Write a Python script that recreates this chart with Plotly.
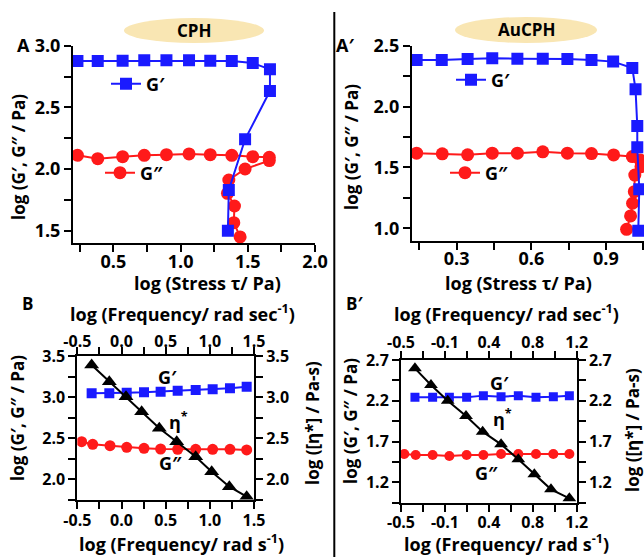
import plotly.graph_objects as go

W, H = 644, 557
def X(px): return px / W
def Y(py): return 1 - py / H

FONT = "Open Sans"
BLUE = "#1a1aff"
RED = "#ff1a1a"
BLACK = "#000000"

# ---------------- data ----------------
# Panel A (CPH) amplitude sweep
A_stress_Gp = [0.233, 0.384, 0.569, 0.730, 0.895, 1.063, 1.221, 1.381, 1.537, 1.665, 1.665, 1.480, 1.359, 1.352]
A_Gp = [2.876, 2.876, 2.878, 2.881, 2.881, 2.881, 2.878, 2.876, 2.859, 2.808, 2.632, 2.241, 1.830, 1.500]
A_stress_Gpp = [0.233, 0.384, 0.569, 0.730, 0.895, 1.063, 1.221, 1.381, 1.537, 1.660, 1.660, 1.480, 1.359, 1.349, 1.401, 1.396, 1.443]
A_Gpp = [2.111, 2.084, 2.100, 2.111, 2.116, 2.122, 2.116, 2.111, 2.100, 2.095, 2.068, 2.000, 1.911, 1.803, 1.700, 1.565, 1.449]

# Panel A' (AuCPH) amplitude sweep
Ap_stress_Gp = [0.139, 0.240, 0.344, 0.443, 0.544, 0.646, 0.745, 0.842, 0.929, 1.006, 1.019, 1.026, 1.026, 1.034, 1.030]
Ap_Gp = [2.382, 2.382, 2.391, 2.396, 2.393, 2.393, 2.391, 2.382, 2.369, 2.317, 2.142, 1.840, 1.666, 1.321, 0.981]
Ap_stress_Gpp = [0.139, 0.242, 0.344, 0.443, 0.544, 0.646, 0.745, 0.842, 0.931, 1.006, 1.037, 1.041, 1.016, 1.014, 1.007, 0.999, 0.983]
Ap_Gpp = [1.617, 1.612, 1.604, 1.617, 1.617, 1.628, 1.617, 1.614, 1.603, 1.589, 1.561, 1.506, 1.437, 1.301, 1.206, 1.102, 0.992]

# Panel B (CPH) frequency sweep
B_freq = [-0.338, -0.138, 0.059, 0.255, 0.443, 0.636, 0.840, 1.032, 1.228, 1.417]
B_Gp = [3.045, 3.045, 3.053, 3.057, 3.065, 3.077, 3.085, 3.094, 3.106, 3.126]
B_freq_Gpp = [-0.451, -0.326, -0.130, 0.059, 0.255, 0.443, 0.636, 0.840, 1.032, 1.228, 1.417]
B_Gpp = [2.455, 2.423, 2.406, 2.386, 2.374, 2.366, 2.362, 2.362, 2.362, 2.362, 2.354]
B_eta_freq = [-0.338, -0.138, 0.051, 0.228, 0.428, 0.625, 0.840, 1.021, 1.221, 1.417]
B_eta = [3.390, 3.187, 3.004, 2.821, 2.618, 2.455, 2.272, 2.089, 1.906, 1.784]

# Panel B' (AuCPH) frequency sweep
Bp_freq = [-0.365, -0.194, -0.032, 0.135, 0.297, 0.468, 0.635, 0.806, 0.974, 1.129]
Bp_Gp = [2.242, 2.242, 2.242, 2.242, 2.263, 2.250, 2.263, 2.242, 2.250, 2.263]
Bp_freq_Gpp = [-0.468, -0.358, -0.194, -0.032, 0.135, 0.297, 0.468, 0.635, 0.806, 0.974, 1.129]
Bp_Gpp = [1.547, 1.535, 1.535, 1.523, 1.535, 1.535, 1.547, 1.547, 1.547, 1.547, 1.547]
Bp_eta_freq = [-0.365, -0.210, -0.048, 0.129, 0.290, 0.468, 0.635, 0.790, 0.951, 1.129]
Bp_eta = [2.598, 2.393, 2.201, 2.013, 1.821, 1.666, 1.482, 1.298, 1.114, 1.004]

# tick labels
A_xticks = [0.5, 1.0, 1.5, 2.0]
A_yticks = [1.5, 2.0, 2.5, 3.0]
Ap_xticks = [0.3, 0.6, 0.9]
Ap_yticks = [1.0, 1.5, 2.0, 2.5]
B_xticks = [-0.5, 0.0, 0.5, 1.0, 1.5]
B_xtext = ["-0.5", "0.0", "0.5", "1.0", "1.5"]
B_yticks = [2.0, 2.5, 3.0, 3.5]
Bp_xticks = [-0.5, -0.075, 0.35, 0.775, 1.2]
Bp_xtext = ["-0.5", "-0.1", "0.4", "0.8", "1.2"]
Bp_yticks = [1.2, 1.7, 2.2, 2.7]

fig = go.Figure()

def sc(x, y, xa, ya, color, symbol, size, name=None, legend=None):
    return go.Scatter(
        x=x, y=y, xaxis=xa, yaxis=ya, mode="lines+markers",
        line=dict(color=color, width=2),
        marker=dict(color=color, symbol=symbol, size=size, line=dict(width=0)),
        name=name or " ", showlegend=legend is not None,
        legend=legend or "legend", hoverinfo="skip")

# A
fig.add_trace(sc(A_stress_Gpp, A_Gpp, "x", "y", RED, "circle", 13, "G″", "legend2"))
fig.add_trace(sc(A_stress_Gp, A_Gp, "x", "y", BLUE, "square", 12, "G′", "legend"))
# A'
fig.add_trace(sc(Ap_stress_Gpp, Ap_Gpp, "x2", "y2", RED, "circle", 13, "G″", "legend4"))
fig.add_trace(sc(Ap_stress_Gp, Ap_Gp, "x2", "y2", BLUE, "square", 12, "G′", "legend3"))
# B
fig.add_trace(sc(B_freq_Gpp, B_Gpp, "x3", "y3", RED, "circle", 11))
fig.add_trace(sc(B_freq, B_Gp, "x3", "y3", BLUE, "square", 10))
fig.add_trace(sc(B_eta_freq, B_eta, "x4", "y4", BLACK, "triangle-up", 13))
# B'
fig.add_trace(sc(Bp_freq_Gpp, Bp_Gpp, "x5", "y5", RED, "circle", 10))
fig.add_trace(sc(Bp_freq, Bp_Gp, "x5", "y5", BLUE, "square", 9))
fig.add_trace(sc(Bp_eta_freq, Bp_eta, "x6", "y6", BLACK, "triangle-up", 12))

def ax(domain, rng, tickvals, ticktext=None, minor_dtick=None, minor_tick0=0,
       fs=17, standoff=0, **kw):
    d = dict(domain=domain, range=rng, showline=True, linecolor="black", linewidth=2,
             ticks="outside", ticklen=7, tickwidth=2, tickcolor="black",
             showgrid=False, zeroline=False, tickmode="array", tickvals=tickvals,
             ticktext=ticktext if ticktext is not None else [f"{v:.1f}" for v in tickvals],
             tickfont=dict(family=FONT, size=fs, color="black", weight="bold"),
             ticklabelstandoff=standoff, fixedrange=True, automargin=False)
    if minor_dtick:
        d["minor"] = dict(ticks="outside", ticklen=7, tickwidth=2, tickcolor="black",
                          tickmode="linear", tick0=minor_tick0, dtick=minor_dtick, showgrid=False)
    d.update(kw)
    return d

layout = dict(
    width=W, height=H, margin=dict(l=0, r=0, t=0, b=0, pad=0, autoexpand=False),
    paper_bgcolor="white", plot_bgcolor="rgba(0,0,0,0)",
    font=dict(family=FONT, color="black", weight="bold"),
    xaxis=ax([X(73), X(315)], [0.2, 2.0], A_xticks, minor_dtick=0.25, fs=18, standoff=-6, anchor="y"),
    yaxis=ax([Y(243), Y(45.67)], [1.4, 3.0], A_yticks, minor_dtick=0.25, fs=18, anchor="x"),
    xaxis2=ax([X(411.9), 1.0], [0.12, 1.053], Ap_xticks, minor_dtick=0.15, fs=18, standoff=-6, anchor="y2"),
    yaxis2=ax([Y(240.5), Y(45.67)], [0.9, 2.5], Ap_yticks, minor_dtick=0.25, fs=18, anchor="x2"),
    xaxis3=ax([X(77.33), X(254)], [-0.5, 1.5], B_xticks, B_xtext, minor_dtick=0.25, fs=16,
              standoff=-2, anchor="y3"),
    yaxis3=ax([Y(499.5), Y(356)], [1.75, 3.5], B_yticks, minor_dtick=0.25, fs=16, anchor="x3"),
    xaxis4=ax([X(77.33), X(254)], [-0.5, 1.5], B_xticks, B_xtext, minor_dtick=0.25, fs=16,
              standoff=-6, anchor="y3", overlaying="x3", side="top"),
    yaxis4=ax([Y(499.5), Y(356)], [1.75, 3.5], B_yticks, minor_dtick=0.25, fs=16,
              anchor="x3", overlaying="y3", side="right"),
    xaxis5=ax([X(401), X(576.7)], [-0.5, 1.2], Bp_xticks, Bp_xtext, minor_dtick=0.2125,
              minor_tick0=-0.5, fs=16, standoff=-3, anchor="y5"),
    yaxis5=ax([Y(502.7), Y(360)], [0.95, 2.7], Bp_yticks, minor_dtick=0.25, minor_tick0=0.95,
              fs=16, anchor="x5"),
    xaxis6=ax([X(401), X(576.7)], [-0.5, 1.2], Bp_xticks, Bp_xtext, minor_dtick=0.2125,
              minor_tick0=-0.5, fs=16, standoff=-3, anchor="y5", overlaying="x5", side="top"),
    yaxis6=ax([Y(502.7), Y(360)], [0.95, 2.7], Bp_yticks, minor_dtick=0.25, minor_tick0=0.95,
              fs=16, anchor="x5", overlaying="y5", side="right"),
)

def leg(xp, yp):
    return dict(x=X(xp), y=Y(yp), xanchor="left", yanchor="middle", bgcolor="rgba(0,0,0,0)",
                borderwidth=0, font=dict(family=FONT, size=18, color="black", weight="bold"),
                itemclick=False, itemdoubleclick=False)

layout["legend"] = leg(106, 84)
layout["legend2"] = leg(100, 173)
layout["legend3"] = leg(451, 80)
layout["legend4"] = leg(445, 173)

fig.update_layout(**layout)

# shapes: header ellipses, divider
fig.add_shape(type="circle", xref="paper", yref="paper", x0=X(124), x1=X(264), y0=Y(43), y1=Y(18),
              fillcolor="#F9E6B3", line=dict(width=0), layer="below")
fig.add_shape(type="circle", xref="paper", yref="paper", x0=X(455), x1=X(597), y0=Y(43), y1=Y(17),
              fillcolor="#F9E6B3", line=dict(width=0), layer="below")
fig.add_shape(type="line", xref="paper", yref="paper", x0=X(334.3), x1=X(334.3), y0=0, y1=Y(12),
              line=dict(color="black", width=2))

def ann(text, xp, yp, size=18, angle=0):
    fig.add_annotation(text=text, x=X(xp), y=Y(yp), xref="paper", yref="paper",
                       xanchor="center", yanchor="middle", showarrow=False, textangle=angle,
                       font=dict(family=FONT, size=size, color="black", weight="bold"))

ann("CPH", 194, 31, 17)
ann("AuCPH", 526, 30, 17)
ann("A", 23, 45, 18)
ann("A′", 345, 45, 18)
ann("B", 27, 303, 17)
ann("B′", 354, 303, 17)
ann("log (Stress τ/ Pa)", 207, 283, 18)
ann("log (Stress τ/ Pa)", 518, 283, 18)
ann("log (G′, G″ / Pa)", 18, 157, 17, -90)
ann("log (G′, G″ / Pa)", 352, 147, 17, -90)
ann("log (G′, G″ / Pa)", 17, 418, 17, -90)
ann("log ([η*] / Pa-s)", 312, 423, 17, -90)
ann("log (G′, G″ / Pa)", 350, 421, 17, -90)
ann("log ([η*] / Pa-s)", 632, 430, 17, -90)
ann("log (Frequency/ rad sec<sup>-1</sup>)", 182, 313, 18)
ann("log (Frequency/ rad sec<sup>-1</sup>)", 506, 313, 18)
ann("log (Frequency/ rad s<sup>-1</sup>)", 181, 543, 18)
ann("log (Frequency/ rad s<sup>-1</sup>)", 506, 543, 18)
ann("G′", 167, 377, 18)
ann("η<sup>*</sup>", 178, 421, 18)
ann("G″", 171, 463, 18)
ann("G′", 499, 383, 18)
ann("η<sup>*</sup>", 503, 418, 18)
ann("G″", 486, 473, 18)

fig.write_html("out.html", config={"displayModeBar": False},
               post_script="document.body.style.margin='0';document.body.style.overflow='hidden';")
